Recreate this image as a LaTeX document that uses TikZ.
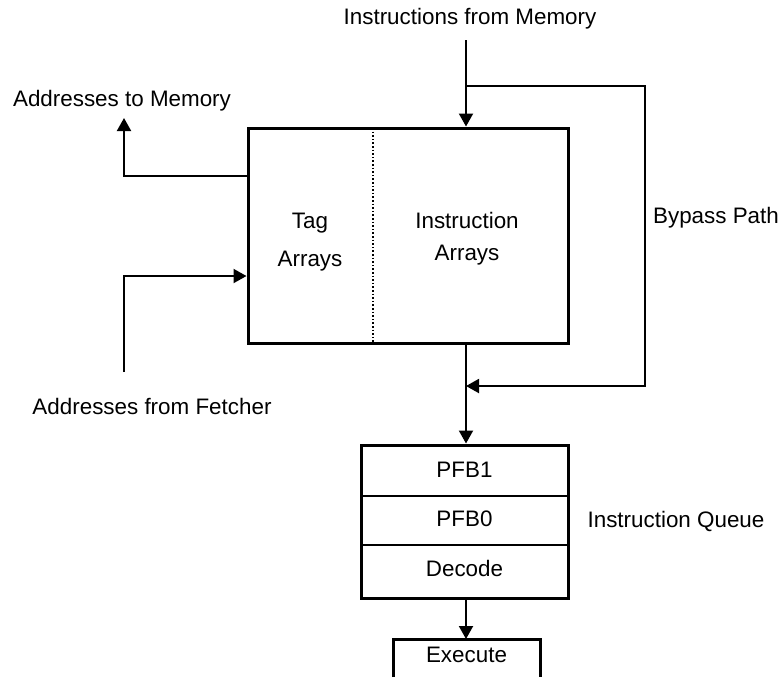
\documentclass[tikz,border=0pt]{standalone}
\usepackage{fontspec}
\setmainfont{Liberation Sans}
\usetikzlibrary{arrows.meta,positioning}

\begin{document}
\begin{tikzpicture}[x=0.5pt,y=-0.5pt,
    font=\fontsize{11.2}{13.4}\selectfont,
    box/.style={draw,line width=1.5pt,inner sep=0pt},
    wire/.style={line width=1pt},
    arr/.style={wire,-{Triangle[length=6.5pt,width=7pt]}}]
  \useasboundingbox (0,0) rectangle (780,677);
  % cache
  \node[box,minimum width=160pt,minimum height=107.5pt] (cache) at (408,235.5) {};
  \draw[densely dotted,line width=0.8pt] (373,128) -- (373,343);
  \node[align=center] (tag_arrays) at (310,242) {Tag\\[5.6pt]Arrays};
  \node[align=center] (instr_arrays) at (467,239) {Instruction\\[2.6pt]Arrays};
  % queue
  \node[box,minimum width=103.5pt,minimum height=76.5pt] (queue) at (464.5,521.5) {};
  \draw[wire] (361,496) -- (568,496);
  \draw[wire] (361,545) -- (568,545);
  \node (pfb_one) at (464.5,470) {PFB1};
  \node (pfb_zero) at (464.5,519) {PFB0};
  \node (decode) at (464.5,568) {Decode};
  \node (execute) at (466.5,655) {Execute};
  \draw[line width=1.5pt] (393,677) |- (540,639) -- (540,677);
  % labels
  \node (instr_mem) at (470,19) {Instructions from Memory};
  \node (addr_mem) at (122,101) {Addresses to Memory};
  \node (addr_fetch) at (152,406) {Addresses from Fetcher};
  \node (bypass) at (716,218) {Bypass Path};
  \node (queue_lbl) at (676,521) {Instruction Queue};
  % connectors
  \coordinate (mem_in) at (466,40);
  \coordinate (bypass_top) at (466,86);
  \coordinate (bypass_right) at (645,86);
  \coordinate (bypass_in) at (466,386);
  \coordinate (to_mem) at (124,118);
  \coordinate (from_fetch) at (124,372);
  \coordinate (exec_top) at (466,639);
  \draw[arr] (mem_in) -- (mem_in |- cache.north);
  \draw[arr] (bypass_top) -- (bypass_right) |- (bypass_in);
  \draw[arr] (cache.south -| mem_in) -- (queue.north -| mem_in);
  \draw[arr] (cache.west |- 0,176) -| (to_mem);
  \draw[arr] (from_fetch) |- (cache.west |- 0,276);
  \draw[arr] (queue.south -| mem_in) -- (exec_top);
\end{tikzpicture}
\end{document}
